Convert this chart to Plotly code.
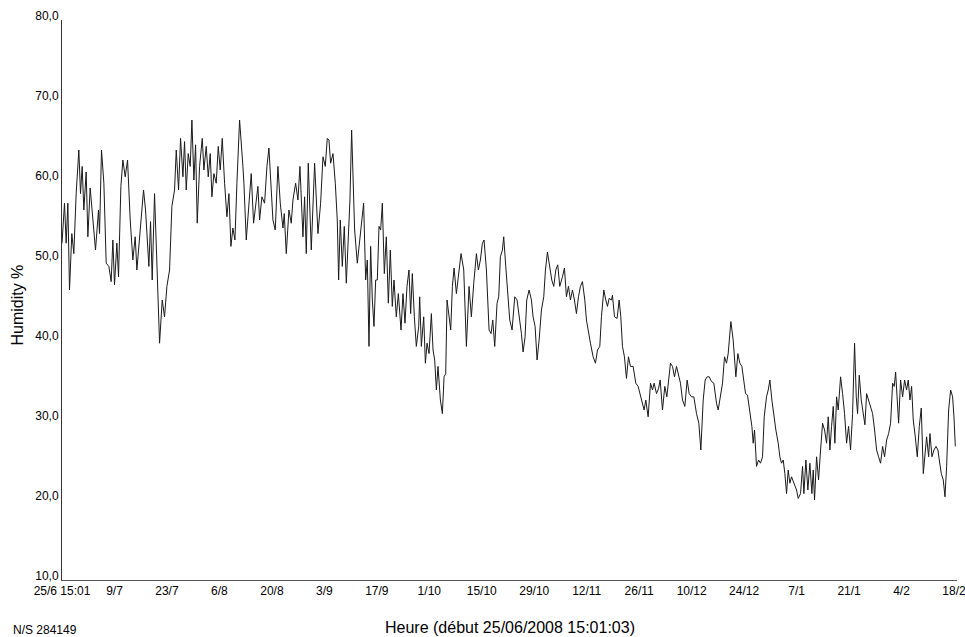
import datetime as dt
import plotly.graph_objects as go

start = dt.datetime(2008, 6, 25, 15, 1, 3)

days = [
    0.0, 0.22, 0.67, 1.11, 1.56, 2.0, 2.62, 3.16, 3.78, 4.49, 4.94, 5.38, 5.83, 6.45, 6.9, 7.52,
    8.23, 8.94, 9.74, 10.01, 10.54, 11.17, 11.79, 12.5, 13.12, 13.57, 14.01, 14.64, 15.08, 15.71,
    16.24, 16.86, 17.49, 18.2, 18.91, 19.53, 19.98, 20.51, 21.04, 21.76, 22.29, 22.82, 23.18,
    23.63, 24.07, 24.69, 25.32, 26.03, 26.74, 27.36, 27.99, 28.7, 29.32, 30.03, 30.48, 31.1,
    31.63, 32.26, 32.7, 33.15, 33.68, 34.21, 34.66, 35.19, 35.64, 36.08, 36.71, 37.42, 37.86,
    38.48, 39.02, 39.55, 40.0, 40.53, 41.15, 41.69, 42.22, 42.76, 43.38, 44.0, 44.54, 45.07,
    45.6, 46.14, 46.67,
    47.38, 48.27, 48.54, 49.16, 49.87, 50.49, 51.12, 51.83, 52.27, 52.72, 53.34, 54.05, 54.68,
    55.21, 55.83, 56.28, 56.9, 57.61, 58.24, 58.95, 59.3, 59.84, 60.55, 61.17, 61.62, 62.33,
    62.95, 63.49, 64.29, 64.73, 65.18, 65.71, 66.51, 67.4, 68.29, 69.0, 69.63, 70.25, 70.78,
    71.23, 71.67, 72.3, 72.92, 73.45, 73.81, 74.25, 74.79, 75.32, 75.86, 76.48, 76.83, 77.28,
    77.63, 78.08, 78.79, 79.41, 79.95, 80.48, 81.02, 81.46, 81.91, 82.35, 82.8, 83.24, 83.69,
    84.13, 84.58, 85.02, 85.47, 86.0, 86.53, 87.07, 87.6, 88.13, 88.58, 89.2, 89.74, 90.45,
    90.98, 91.52, 92.05, 92.58, 93.03, 93.47, 94.01, 94.54, 95.17,
    95.44, 95.88, 96.51, 96.95, 97.4, 97.93, 98.55, 99.0, 99.44, 99.89, 100.33, 100.96, 101.49,
    101.94, 102.38, 102.74, 103.27, 103.72, 104.16, 104.61, 105.23, 105.85, 106.47, 107.19,
    107.9, 108.61, 109.23, 109.86, 110.57, 111.1, 111.63, 112.17, 112.61, 113.24, 113.95,
    114.48, 114.93, 115.46, 116.08, 116.53, 116.97, 117.51, 117.86, 118.4, 118.93, 119.47,
    120.09, 120.8, 121.42, 121.96, 122.58, 123.03, 123.56, 124.0, 124.63, 125.25, 125.69,
    126.23, 126.76, 127.3, 127.92, 128.54, 128.99, 129.52, 130.14, 130.68, 131.21, 131.75,
    132.28, 132.81, 133.53, 134.06, 134.59, 135.13, 135.66, 136.2, 136.73, 137.26, 137.8,
    138.33, 138.86, 139.49, 139.93, 140.47, 141.0, 141.71, 142.34, 142.87,
    143.49, 143.93, 144.56, 145.09, 145.54, 145.98, 146.6, 146.87, 147.41, 148.12, 148.65,
    149.1, 149.54, 150.07, 150.61, 151.14, 151.68, 152.39, 153.1, 153.72, 154.35, 154.88,
    155.32, 155.77, 156.39, 157.02, 157.55, 157.99, 158.62, 159.15, 159.6, 160.22, 160.84,
    161.38, 161.91, 162.35, 162.89, 163.42, 163.96, 164.49, 165.02, 165.56, 166.18, 166.8,
    167.34, 167.96, 168.58, 169.3, 169.92, 170.45, 171.08, 171.61, 172.14, 172.68, 173.3,
    173.92, 174.63, 175.08, 175.7, 176.24, 176.77, 177.3, 177.75, 178.46, 179.08, 179.8,
    180.33, 180.86, 181.4, 181.93, 182.38, 182.91, 183.53, 184.07, 184.42, 184.78, 185.31,
    185.85, 186.38, 186.91, 187.36, 187.98, 188.43, 188.87, 189.41, 189.94, 190.47, 191.1,
    191.54,
    191.98, 192.43, 192.87, 193.32, 193.76, 194.21, 194.65, 195.1, 195.54, 195.99, 196.43,
    197.06, 197.59, 197.95, 198.48, 199.01, 199.55, 200.08, 200.44, 200.79, 201.33, 201.86,
    202.4, 202.93, 203.46, 204.0, 204.44, 204.89, 205.33, 205.78, 206.22, 206.67, 207.11,
    207.74, 208.27, 208.8, 209.34, 209.87, 210.4, 210.94, 211.47, 211.92, 212.27, 212.72,
    213.25, 213.79, 214.23, 214.68, 215.21, 215.74, 216.28, 216.81, 217.35, 217.88, 218.41,
    218.95, 219.48, 220.02, 220.55, 221.08, 221.62, 222.06, 222.42, 222.86, 223.22, 223.75,
    224.29, 224.82, 225.35, 225.8, 226.24, 226.69, 227.13, 227.67, 228.2, 228.74, 229.27,
    229.81, 230.34, 230.69, 231.23, 231.58, 232.12, 232.65, 233.19, 233.72, 234.07, 234.61,
    235.14, 235.59, 236.03, 236.57, 237.1, 237.63, 237.99, 238.35,
]

humidity = [
    52.1, 54.2, 57.1, 52.1, 57.1, 46.25, 53.3, 50.8, 58.3, 63.75, 58.3, 61.7, 56.25, 61.0, 52.9, 59.0,
    55.0, 51.25, 56.25, 53.3, 63.75, 59.6, 49.6, 49.2, 47.3, 52.5, 46.9, 52.1, 47.9, 59.2,
    62.5, 60.4, 62.5, 55.0, 50.0, 52.9, 48.75, 51.7, 55.0, 58.75, 56.25, 51.7, 49.2,
    54.8, 47.5, 58.3, 48.3, 39.6, 45.0, 42.9, 46.7, 48.75, 56.7, 58.75, 63.75, 58.75,
    65.2, 60.4, 64.8, 58.75, 63.3, 61.7, 67.5, 60.0, 64.4, 54.6, 61.7, 65.2, 61.25,
    64.2, 60.4, 63.3, 57.9, 60.8, 59.6, 64.2, 61.25, 65.2, 59.6, 55.4, 58.3, 51.7,
    54.0, 52.5, 59.6,
    67.5, 61.7, 59.6, 52.5, 57.5, 60.8, 54.6, 57.1, 59.2, 55.0, 57.9, 57.1, 61.7,
    64.0, 57.9, 55.0, 53.75, 61.7, 57.1, 54.0, 55.8, 50.8, 56.25, 54.6, 57.5, 59.6,
    57.5, 61.7, 52.9, 57.9, 50.8, 62.1, 51.25, 62.1, 53.3, 57.1, 62.9, 61.7, 65.2,
    65.0, 62.1, 63.3, 59.6, 55.0, 47.5, 55.0, 49.2, 54.2, 47.1, 55.0, 57.5, 66.25,
    61.7, 53.75, 49.6, 52.5, 54.2, 57.1, 47.5, 50.0, 39.2, 51.7, 45.0, 41.7, 47.5,
    47.5, 54.2, 53.75, 57.1, 48.3, 52.9, 44.6, 51.25, 44.2, 47.5, 42.9, 45.8, 41.25,
    45.8, 42.1, 46.7, 48.75, 43.3, 48.3, 42.9, 39.2, 41.7,
    45.4, 39.2, 42.9, 37.1, 39.6, 38.3, 43.3, 38.75, 37.5, 33.75, 36.7, 32.5, 30.8,
    35.4, 35.8, 45.0, 43.3, 41.25, 46.7, 49.0, 45.8, 48.75, 50.8, 48.75,
    39.2, 46.7, 42.9, 47.1, 50.8, 48.75, 50.0, 52.1, 52.5, 48.75, 41.25,
    40.8, 42.5, 39.2, 44.6, 45.4, 50.4, 51.25, 52.9, 49.2, 45.8, 42.5,
    41.25, 45.4, 45.0, 43.3, 40.8, 38.5, 40.4, 45.0, 46.25, 45.0, 42.9,
    41.7, 37.5, 40.0, 43.75, 45.4, 48.75, 51.0, 49.4, 47.5, 46.7, 48.75,
    49.4, 46.7, 47.9, 49.0, 45.4, 46.7, 45.0, 46.25, 45.0, 43.3, 45.4,
    46.7, 47.3, 45.0, 42.5, 40.8, 39.6, 37.9, 37.1, 38.75,
    39.2, 42.9, 46.25, 45.0, 44.2, 45.2, 45.0, 45.6, 42.9, 42.7, 45.0,
    42.9, 39.2, 37.9, 35.2, 37.9, 36.7, 36.7, 34.6, 34.2, 32.9, 32.1,
    31.25, 32.5, 30.4, 34.6, 33.75, 34.6, 33.3, 33.9, 35.0, 31.25, 34.2,
    32.9, 35.0, 37.1, 36.7, 35.4, 36.7, 35.8, 34.6, 32.5, 31.7, 35.0,
    33.3, 32.9, 32.9, 30.8, 29.6, 26.25, 32.5, 35.0, 35.4, 35.4, 34.8,
    34.6, 32.1, 31.25, 33.3, 34.6, 37.9, 37.1, 38.3, 42.3, 40.0, 35.4,
    38.3, 37.1, 36.7, 34.6, 33.3, 33.1, 31.25, 29.2, 27.1, 28.75, 24.2,
    25.0, 24.6, 25.4, 30.4, 32.9, 33.75, 35.0, 32.5, 30.4, 28.75, 27.1,
    25.4,
    24.6, 25.0, 23.3, 20.8, 23.75, 22.1, 22.9, 22.3, 21.7, 21.25, 20.2,
    20.8, 24.2, 20.8, 25.0, 21.25, 24.6, 20.8, 23.75, 20.0, 25.4, 22.5,
    26.25, 29.6, 28.75, 27.1, 30.4, 26.25, 29.2, 31.7, 27.1, 32.9, 31.25,
    35.4, 33.3, 30.8, 27.1, 29.2, 26.25, 30.8, 39.6, 32.9, 30.8, 35.6,
    32.5, 30.4, 29.4, 33.3, 32.5, 31.7, 30.8, 28.75, 26.25, 25.4, 24.6,
    26.7, 25.4, 27.5, 28.3, 29.6, 34.6, 34.2, 36.0, 32.5, 29.6, 35.0,
    32.9, 35.0, 33.75, 35.0, 32.5, 34.2, 30.0, 27.9, 25.4, 29.2, 31.5,
    23.3, 26.25, 27.9, 25.4, 28.3, 25.4, 26.25, 26.7, 26.25, 25.0, 23.3,
    22.5, 20.4, 24.2, 31.25, 33.75, 32.9, 30.4, 26.7,
]

tick_days = [0, 14, 28, 42, 56, 70, 84, 98, 112, 126, 140, 154, 168, 182, 196, 210, 224, 238]
tick_labels = ["25/6 15:01", "9/7", "23/7", "6/8", "20/8", "3/9", "17/9", "1/10", "15/10",
               "29/10", "12/11", "26/11", "10/12", "24/12", "7/1", "21/1", "4/2", "18/2"]
y_ticks = [10, 20, 30, 40, 50, 60, 70, 80]

times = [start + dt.timedelta(days=d) for d in days]
tick_times = [start + dt.timedelta(days=d) for d in tick_days]

fig = go.Figure()
fig.add_trace(go.Scatter(
    x=times, y=humidity, mode="lines",
    line=dict(color="#1a1a1a", width=1),
    showlegend=False, hoverinfo="x+y",
))

font_family = "Liberation Sans, Arial, sans-serif"
fig.update_layout(
    template="none",
    width=965, height=637,
    margin=dict(l=62, r=8, t=20, b=57, pad=0),
    paper_bgcolor="white", plot_bgcolor="white",
    separators=", ",
    font=dict(family=font_family, color="black", size=12),
    xaxis=dict(
        range=[start, start + dt.timedelta(days=238.8)],
        tickvals=tick_times, ticktext=tick_labels,
        showgrid=False, zeroline=False, automargin=False,
        showline=True, linecolor="#555555", linewidth=1,
        ticks="", tickfont=dict(size=12, color="black"),
        ticklabeloverflow="allow",
    ),
    yaxis=dict(
        range=[10, 80], tickvals=y_ticks, tickformat=".1f",
        showgrid=False, zeroline=False, automargin=False,
        showline=True, linecolor="#333333", linewidth=1,
        ticks="", ticklabelposition="outside", ticklabelshift=-4,
        ticklabeloverflow="allow",
        tickfont=dict(size=12, color="black"),
    ),
    annotations=[
        dict(text="Humidity %", xref="paper", yref="paper", x=-0.0497, y=0.491,
             textangle=-90, showarrow=False, font=dict(size=16, color="black"),
             xanchor="center", yanchor="middle"),
        dict(text="Heure (début 25/06/2008 15:01:03)", xref="paper", yref="paper",
             x=0.5, y=-0.084, showarrow=False, font=dict(size=16, color="black"),
             xanchor="center", yanchor="middle"),
        dict(text="N/S 284149", xref="paper", yref="paper", x=-0.057, y=-0.089,
             showarrow=False, font=dict(size=12, color="black"),
             xanchor="left", yanchor="middle"),
    ],
)

fig.write_html(
    "out.html",
    config={"displayModeBar": False},
    post_script="document.body.style.margin='0';document.body.style.overflow='hidden';",
)
